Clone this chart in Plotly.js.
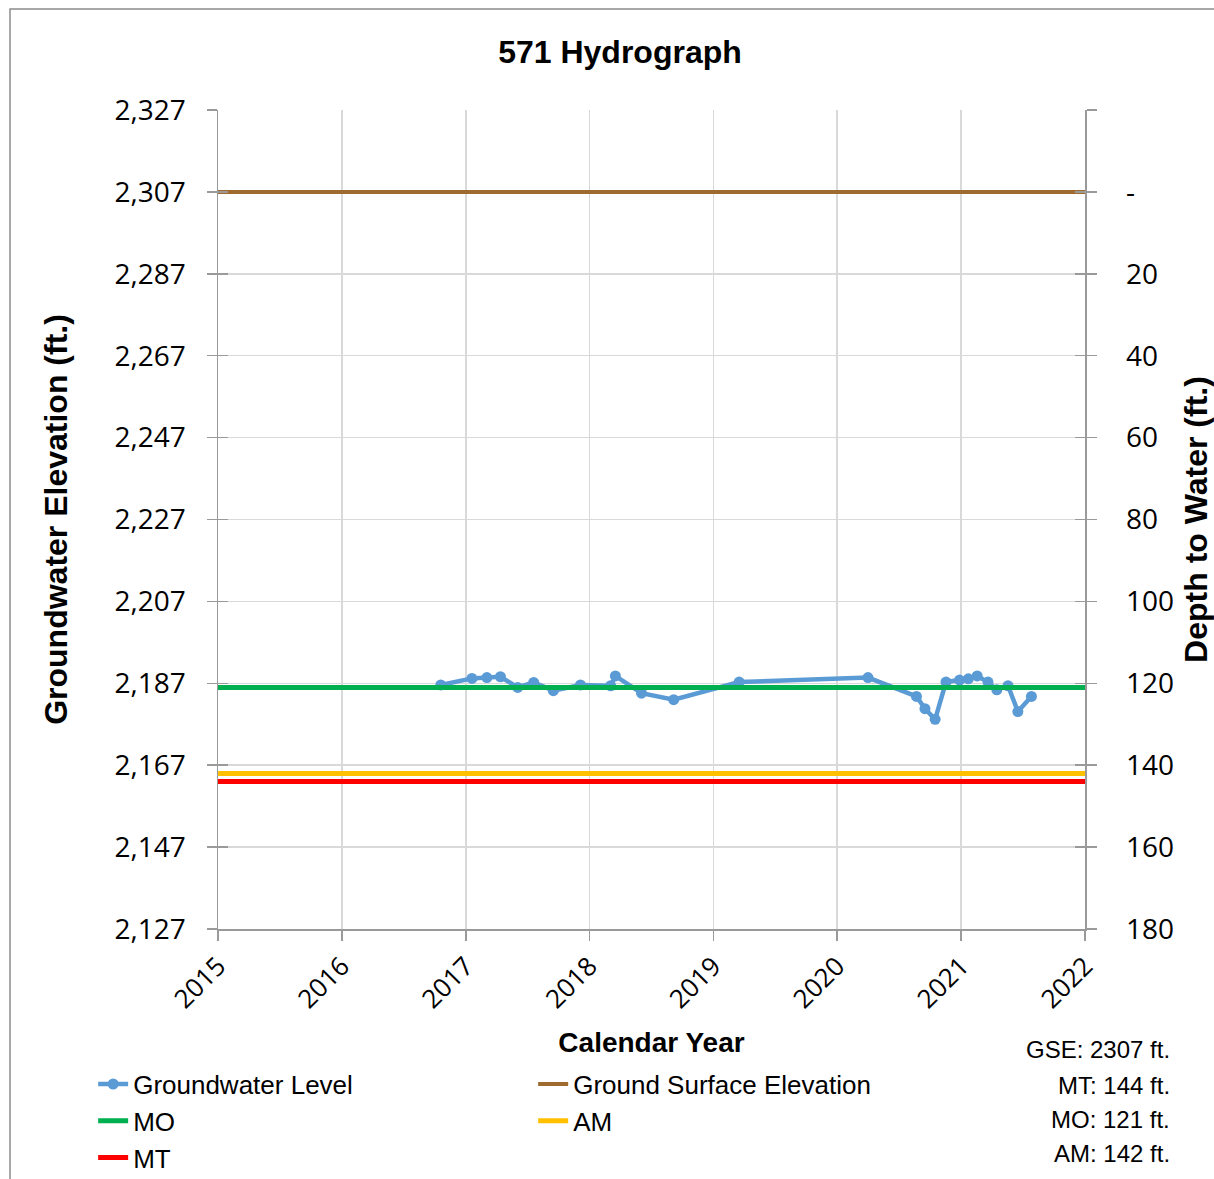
<!DOCTYPE html>
<html>
<head>
<meta charset="utf-8">
<script src="https://cdn.plot.ly/plotly-3.0.1.min.js"></script>
<style>html,body{margin:0;padding:0;background:#fff;}#chart{width:1214px;height:1179px;}</style>
</head>
<body>
<div id="chart"></div>
<script>
// ---- data ----
const gwDates = ['2016-10-19','2017-01-19','2017-03-04','2017-04-13','2017-06-03','2017-07-20','2017-09-16','2017-12-05',
  '2018-03-04','2018-03-18','2018-06-03','2018-09-06','2019-03-18','2020-04-01','2020-08-22','2020-09-16','2020-10-16',
  '2020-11-17','2020-12-27','2021-01-22','2021-02-17','2021-03-21','2021-04-16','2021-05-19','2021-06-17','2021-07-27'];
const gwElev = [2186.6,2188.2,2188.4,2188.6,2186.0,2187.2,2185.2,2186.6,
  2186.4,2188.8,2184.6,2183.0,2187.3,2188.4,2183.8,2180.8,2178.2,
  2187.3,2187.8,2188.1,2188.8,2187.3,2185.4,2186.4,2180.1,2183.8];
const gse = 2307;      // ground surface elevation (ft)
const moDepth = 121;   // measurable objective depth (ft)
const amDepth = 142;   // action minimum depth (ft)
const mtDepth = 144;   // minimum threshold depth (ft)
const lineSpan = ['2015-01-01','2022-01-01'];
const years = ['2015','2016','2017','2018','2019','2020','2021','2022'];
const elevTicks = [2127,2147,2167,2187,2207,2227,2247,2267,2287,2307,2327];
const depthTickText = ['180','160','140','120','100','80','60','40','20','-',''];
const infoLabels = ['GSE: 2307 ft.','MT: 144 ft.','MO: 121 ft.','AM: 142 ft.'];

const yearTickVals = years.map(y => y + '-01-01');
const elevRange = [2127, 2327];
const tickFont = {family: 'Open Sans, sans-serif', size: 28, color: '#000'};
const axisGray = '#9a9a9a';
const gridGray = '#d9d9d9';

const traces = [
  {x: gwDates, y: gwElev, name: 'Groundwater Level', mode: 'lines+markers',
   line: {color: '#5b9bd5', width: 4.5}, marker: {color: '#5b9bd5', size: 11}},
  {x: lineSpan, y: [gse, gse], name: 'Ground Surface Elevation', mode: 'lines',
   line: {color: '#9e6a30', width: 4}},
  {x: lineSpan, y: [gse - moDepth, gse - moDepth], name: 'MO', mode: 'lines',
   line: {color: '#00b050', width: 5}},
  {x: lineSpan, y: [gse - amDepth, gse - amDepth], name: 'AM', mode: 'lines',
   line: {color: '#ffc000', width: 5}},
  {x: lineSpan, y: [gse - mtDepth, gse - mtDepth], name: 'MT', mode: 'lines',
   line: {color: '#ff0000', width: 5}},
  // empty helper traces so the overlay axes (right scale + crossing ticks) are drawn
  {x: [], y: [], yaxis: 'y2', showlegend: false, hoverinfo: 'skip'},
  {x: [], y: [], yaxis: 'y3', showlegend: false, hoverinfo: 'skip'},
  {x: [], y: [], yaxis: 'y4', showlegend: false, hoverinfo: 'skip'}
];

const infoY = [-0.1477, -0.1905, -0.2332, -0.2747];
const annotations = infoLabels.map((t, i) => ({
  text: t, xref: 'paper', yref: 'paper', x: 1.1003, y: infoY[i],
  xanchor: 'right', yanchor: 'middle', showarrow: false,
  font: {family: 'Liberation Sans, Arial, sans-serif', size: 24, color: '#000'}
}));

const layout = {
  width: 1214, height: 1179,
  margin: {l: 218, r: 129, t: 110, b: 250, autoexpand: false},
  paper_bgcolor: '#fff', plot_bgcolor: '#fff',
  showlegend: true,
  title: {text: '<b>571 Hydrograph</b>', x: 0.5107, xref: 'container', xanchor: 'center',
          y: 0.956, yref: 'container', yanchor: 'middle',
          font: {family: 'Liberation Sans, Arial, sans-serif', size: 32, color: '#000'}},
  xaxis: {
    type: 'date', range: lineSpan, tickvals: yearTickVals, ticktext: years, tickangle: -45,
    showgrid: true, gridcolor: gridGray, gridwidth: 1.5,
    showline: true, linecolor: axisGray, linewidth: 1.5,
    ticks: 'outside', ticklen: 10, tickcolor: axisGray, tickwidth: 1.5,
    tickfont: {family: 'Open Sans, sans-serif', size: 26, color: '#000'},
    zeroline: false, automargin: false,
    title: {text: '<b>Calendar Year</b>', standoff: 18,
            font: {family: 'Liberation Sans, Arial, sans-serif', size: 28, color: '#000'}}
  },
  yaxis: {
    range: elevRange, tickvals: elevTicks, tickformat: ',d',
    showgrid: true, gridcolor: gridGray, gridwidth: 1.5,
    showline: true, linecolor: axisGray, linewidth: 1.5,
    ticks: 'outside', ticklen: 10, tickcolor: axisGray, tickwidth: 1.5,
    ticklabelstandoff: 15,
    tickfont: tickFont, zeroline: false, automargin: false,
    title: {text: '<b>Groundwater Elevation (ft.)</b>', standoff: 37,
            font: {family: 'Liberation Sans, Arial, sans-serif', size: 32, color: '#000'}}
  },
  yaxis2: {
    overlaying: 'y', side: 'right', range: elevRange, tickvals: elevTicks, ticktext: depthTickText,
    showgrid: false, showline: true, linecolor: axisGray, linewidth: 1.5,
    ticks: 'outside', ticklen: 10, tickcolor: axisGray, tickwidth: 1.5,
    ticklabelstandoff: 24,
    tickfont: tickFont, zeroline: false, automargin: false,
    title: {text: '<b>Depth to Water (ft.)</b>', standoff: 40,
            font: {family: 'Liberation Sans, Arial, sans-serif', size: 32, color: '#000'}}
  },
  yaxis3: {
    overlaying: 'y', side: 'left', range: elevRange, tickvals: elevTicks,
    showticklabels: false, showgrid: false, showline: false, zeroline: false,
    ticks: 'inside', ticklen: 10, tickcolor: axisGray, tickwidth: 1.5
  },
  yaxis4: {
    overlaying: 'y', side: 'right', range: elevRange, tickvals: elevTicks,
    showticklabels: false, showgrid: false, showline: false, zeroline: false,
    ticks: 'inside', ticklen: 10, tickcolor: axisGray, tickwidth: 1.5
  },
  legend: {
    orientation: 'h', x: -0.144, xanchor: 'left', y: -0.1607, yanchor: 'top',
    entrywidth: 395, entrywidthmode: 'pixels', bgcolor: 'rgba(0,0,0,0)',
    font: {family: 'Liberation Sans, Arial, sans-serif', size: 26, color: '#000'}
  },
  annotations: annotations,
  shapes: [{type: 'rect', xref: 'paper', yref: 'paper', x0: -0.2399, x1: 1.5, y0: -0.6, y1: 1.1233,
            line: {color: '#8c8c8c', width: 1.5}, fillcolor: 'rgba(0,0,0,0)', layer: 'below'}]
};

Plotly.newPlot('chart', traces, layout, {displayModeBar: false, staticPlot: true});
</script>
</body>
</html>
